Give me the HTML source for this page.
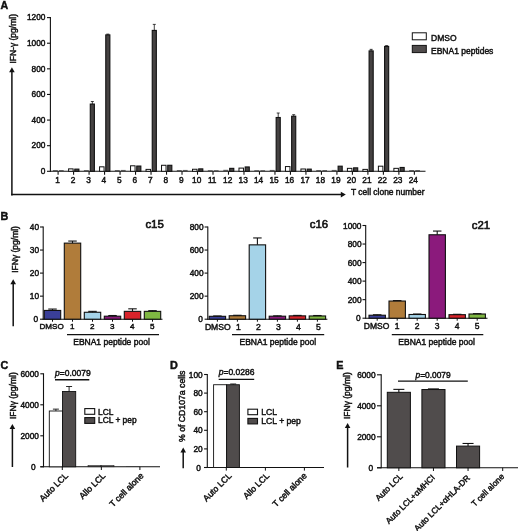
<!DOCTYPE html>
<html><head><meta charset="utf-8"><title>Figure</title>
<style>
html,body{margin:0;padding:0;background:#fff;}
svg{display:block;will-change:transform;}
text{font-family:"Liberation Sans",sans-serif;fill:#111;stroke:#111;stroke-width:0.45px;}
</style></head>
<body>
<svg width="520" height="531" viewBox="0 0 520 531">
<rect x="0" y="0" width="520" height="531" fill="#fff"/>
<text x="0.50" y="8.90" font-size="10.6" text-anchor="start" font-weight="bold">A</text>
<line x1="50.40" y1="17.10" x2="50.40" y2="171.80" stroke="#111" stroke-width="1.1"/>
<line x1="47.00" y1="171.30" x2="50.40" y2="171.30" stroke="#111" stroke-width="1.1"/>
<text x="45.40" y="174.10" font-size="8.3" text-anchor="end" font-weight="normal">0</text>
<line x1="47.00" y1="145.68" x2="50.40" y2="145.68" stroke="#111" stroke-width="1.1"/>
<text x="45.40" y="148.48" font-size="8.3" text-anchor="end" font-weight="normal">200</text>
<line x1="47.00" y1="120.07" x2="50.40" y2="120.07" stroke="#111" stroke-width="1.1"/>
<text x="45.40" y="122.87" font-size="8.3" text-anchor="end" font-weight="normal">400</text>
<line x1="47.00" y1="94.45" x2="50.40" y2="94.45" stroke="#111" stroke-width="1.1"/>
<text x="45.40" y="97.25" font-size="8.3" text-anchor="end" font-weight="normal">600</text>
<line x1="47.00" y1="68.83" x2="50.40" y2="68.83" stroke="#111" stroke-width="1.1"/>
<text x="45.40" y="71.63" font-size="8.3" text-anchor="end" font-weight="normal">800</text>
<line x1="47.00" y1="43.22" x2="50.40" y2="43.22" stroke="#111" stroke-width="1.1"/>
<text x="45.40" y="46.02" font-size="8.3" text-anchor="end" font-weight="normal">1000</text>
<line x1="47.00" y1="17.60" x2="50.40" y2="17.60" stroke="#111" stroke-width="1.1"/>
<text x="45.40" y="20.40" font-size="8.3" text-anchor="end" font-weight="normal">1200</text>
<line x1="49.90" y1="171.30" x2="425.50" y2="171.30" stroke="#111" stroke-width="1.1"/>
<line x1="58.10" y1="171.30" x2="58.10" y2="174.70" stroke="#111" stroke-width="1.1"/>
<text x="57.50" y="182.80" font-size="8.3" text-anchor="middle" font-weight="normal">1</text>
<rect x="52.90" y="170.06" width="4.9" height="1.24" fill="#333" opacity="0.75"/>
<rect x="59.00" y="170.06" width="4.7" height="1.24" fill="#333" opacity="0.75"/>
<line x1="73.59" y1="171.30" x2="73.59" y2="174.70" stroke="#111" stroke-width="1.1"/>
<text x="72.97" y="182.80" font-size="8.3" text-anchor="middle" font-weight="normal">2</text>
<rect x="68.59" y="168.87" width="4.50" height="2.43" fill="#fff" stroke="#111" stroke-width="1.0"/>
<rect x="74.79" y="169.12" width="4.10" height="2.18" fill="#454242" stroke="#111" stroke-width="1.1"/>
<line x1="89.08" y1="171.30" x2="89.08" y2="174.70" stroke="#111" stroke-width="1.1"/>
<text x="88.44" y="182.80" font-size="8.3" text-anchor="middle" font-weight="normal">3</text>
<rect x="83.88" y="170.06" width="4.9" height="1.24" fill="#333" opacity="0.75"/>
<rect x="90.28" y="104.06" width="4.10" height="67.24" fill="#454242" stroke="#111" stroke-width="1.1"/>
<line x1="92.33" y1="104.06" x2="92.33" y2="101.49" stroke="#111" stroke-width="0.8"/>
<line x1="90.83" y1="101.49" x2="93.83" y2="101.49" stroke="#111" stroke-width="0.8"/>
<line x1="104.57" y1="171.30" x2="104.57" y2="174.70" stroke="#111" stroke-width="1.1"/>
<text x="103.91" y="182.80" font-size="8.3" text-anchor="middle" font-weight="normal">4</text>
<rect x="99.57" y="166.82" width="4.50" height="4.48" fill="#fff" stroke="#111" stroke-width="1.0"/>
<rect x="105.77" y="34.89" width="4.10" height="136.41" fill="#454242" stroke="#111" stroke-width="1.1"/>
<line x1="107.82" y1="34.89" x2="107.82" y2="34.12" stroke="#111" stroke-width="0.8"/>
<line x1="106.32" y1="34.12" x2="109.32" y2="34.12" stroke="#111" stroke-width="0.8"/>
<line x1="120.06" y1="171.30" x2="120.06" y2="174.70" stroke="#111" stroke-width="1.1"/>
<text x="119.38" y="182.80" font-size="8.3" text-anchor="middle" font-weight="normal">5</text>
<rect x="114.86" y="170.06" width="4.9" height="1.24" fill="#333" opacity="0.75"/>
<rect x="120.96" y="169.93" width="4.7" height="1.37" fill="#333" opacity="0.75"/>
<line x1="135.55" y1="171.30" x2="135.55" y2="174.70" stroke="#111" stroke-width="1.1"/>
<text x="134.85" y="182.80" font-size="8.3" text-anchor="middle" font-weight="normal">6</text>
<rect x="130.55" y="165.79" width="4.50" height="5.51" fill="#fff" stroke="#111" stroke-width="1.0"/>
<rect x="136.75" y="166.05" width="4.10" height="5.25" fill="#454242" stroke="#111" stroke-width="1.1"/>
<line x1="151.04" y1="171.30" x2="151.04" y2="174.70" stroke="#111" stroke-width="1.1"/>
<text x="150.32" y="182.80" font-size="8.3" text-anchor="middle" font-weight="normal">7</text>
<rect x="146.04" y="169.38" width="4.50" height="1.92" fill="#fff" stroke="#111" stroke-width="1.0"/>
<rect x="152.24" y="30.41" width="4.10" height="140.89" fill="#454242" stroke="#111" stroke-width="1.1"/>
<line x1="154.29" y1="30.41" x2="154.29" y2="24.39" stroke="#111" stroke-width="0.8"/>
<line x1="152.79" y1="24.39" x2="155.79" y2="24.39" stroke="#111" stroke-width="0.8"/>
<line x1="166.53" y1="171.30" x2="166.53" y2="174.70" stroke="#111" stroke-width="1.1"/>
<text x="165.79" y="182.80" font-size="8.3" text-anchor="middle" font-weight="normal">8</text>
<rect x="161.53" y="165.28" width="4.50" height="6.02" fill="#fff" stroke="#111" stroke-width="1.0"/>
<rect x="167.73" y="165.28" width="4.10" height="6.02" fill="#454242" stroke="#111" stroke-width="1.1"/>
<line x1="182.02" y1="171.30" x2="182.02" y2="174.70" stroke="#111" stroke-width="1.1"/>
<text x="181.26" y="182.80" font-size="8.3" text-anchor="middle" font-weight="normal">9</text>
<rect x="176.82" y="170.06" width="4.9" height="1.24" fill="#333" opacity="0.75"/>
<rect x="182.92" y="169.93" width="4.7" height="1.37" fill="#333" opacity="0.75"/>
<line x1="197.51" y1="171.30" x2="197.51" y2="174.70" stroke="#111" stroke-width="1.1"/>
<text x="196.73" y="182.80" font-size="8.3" text-anchor="middle" font-weight="normal">10</text>
<rect x="192.51" y="169.25" width="4.50" height="2.05" fill="#fff" stroke="#111" stroke-width="1.0"/>
<rect x="198.71" y="168.87" width="4.10" height="2.43" fill="#454242" stroke="#111" stroke-width="1.1"/>
<line x1="213.00" y1="171.30" x2="213.00" y2="174.70" stroke="#111" stroke-width="1.1"/>
<text x="212.20" y="182.80" font-size="8.3" text-anchor="middle" font-weight="normal">11</text>
<rect x="207.80" y="170.19" width="4.9" height="1.11" fill="#333" opacity="0.75"/>
<rect x="213.90" y="170.19" width="4.7" height="1.11" fill="#333" opacity="0.75"/>
<line x1="228.49" y1="171.30" x2="228.49" y2="174.70" stroke="#111" stroke-width="1.1"/>
<text x="227.67" y="182.80" font-size="8.3" text-anchor="middle" font-weight="normal">12</text>
<rect x="223.29" y="169.80" width="4.9" height="1.50" fill="#333" opacity="0.75"/>
<rect x="229.69" y="168.35" width="4.10" height="2.95" fill="#454242" stroke="#111" stroke-width="1.1"/>
<line x1="243.98" y1="171.30" x2="243.98" y2="174.70" stroke="#111" stroke-width="1.1"/>
<text x="243.14" y="182.80" font-size="8.3" text-anchor="middle" font-weight="normal">13</text>
<rect x="238.98" y="168.10" width="4.50" height="3.20" fill="#fff" stroke="#111" stroke-width="1.0"/>
<rect x="245.18" y="166.95" width="4.10" height="4.35" fill="#454242" stroke="#111" stroke-width="1.1"/>
<line x1="259.47" y1="171.30" x2="259.47" y2="174.70" stroke="#111" stroke-width="1.1"/>
<text x="258.61" y="182.80" font-size="8.3" text-anchor="middle" font-weight="normal">14</text>
<rect x="254.27" y="170.19" width="4.9" height="1.11" fill="#333" opacity="0.75"/>
<rect x="260.37" y="170.19" width="4.7" height="1.11" fill="#333" opacity="0.75"/>
<line x1="274.96" y1="171.30" x2="274.96" y2="174.70" stroke="#111" stroke-width="1.1"/>
<text x="274.08" y="182.80" font-size="8.3" text-anchor="middle" font-weight="normal">15</text>
<rect x="269.76" y="169.93" width="4.9" height="1.37" fill="#333" opacity="0.75"/>
<rect x="276.16" y="117.50" width="4.10" height="53.80" fill="#454242" stroke="#111" stroke-width="1.1"/>
<line x1="278.21" y1="117.50" x2="278.21" y2="113.02" stroke="#111" stroke-width="0.8"/>
<line x1="276.71" y1="113.02" x2="279.71" y2="113.02" stroke="#111" stroke-width="0.8"/>
<line x1="290.45" y1="171.30" x2="290.45" y2="174.70" stroke="#111" stroke-width="1.1"/>
<text x="289.55" y="182.80" font-size="8.3" text-anchor="middle" font-weight="normal">16</text>
<rect x="285.45" y="166.56" width="4.50" height="4.74" fill="#fff" stroke="#111" stroke-width="1.0"/>
<rect x="291.65" y="116.22" width="4.10" height="55.08" fill="#454242" stroke="#111" stroke-width="1.1"/>
<line x1="293.70" y1="116.22" x2="293.70" y2="114.69" stroke="#111" stroke-width="0.8"/>
<line x1="292.20" y1="114.69" x2="295.20" y2="114.69" stroke="#111" stroke-width="0.8"/>
<line x1="305.94" y1="171.30" x2="305.94" y2="174.70" stroke="#111" stroke-width="1.1"/>
<text x="305.02" y="182.80" font-size="8.3" text-anchor="middle" font-weight="normal">17</text>
<rect x="300.94" y="168.99" width="4.50" height="2.31" fill="#fff" stroke="#111" stroke-width="1.0"/>
<rect x="307.14" y="169.12" width="4.10" height="2.18" fill="#454242" stroke="#111" stroke-width="1.1"/>
<line x1="321.43" y1="171.30" x2="321.43" y2="174.70" stroke="#111" stroke-width="1.1"/>
<text x="320.49" y="182.80" font-size="8.3" text-anchor="middle" font-weight="normal">18</text>
<rect x="316.23" y="170.06" width="4.9" height="1.24" fill="#333" opacity="0.75"/>
<rect x="322.33" y="170.06" width="4.7" height="1.24" fill="#333" opacity="0.75"/>
<line x1="336.92" y1="171.30" x2="336.92" y2="174.70" stroke="#111" stroke-width="1.1"/>
<text x="335.96" y="182.80" font-size="8.3" text-anchor="middle" font-weight="normal">19</text>
<rect x="331.72" y="169.93" width="4.9" height="1.37" fill="#333" opacity="0.75"/>
<rect x="338.12" y="166.18" width="4.10" height="5.12" fill="#454242" stroke="#111" stroke-width="1.1"/>
<line x1="352.41" y1="171.30" x2="352.41" y2="174.70" stroke="#111" stroke-width="1.1"/>
<text x="351.43" y="182.80" font-size="8.3" text-anchor="middle" font-weight="normal">20</text>
<rect x="347.41" y="168.35" width="4.50" height="2.95" fill="#fff" stroke="#111" stroke-width="1.0"/>
<rect x="353.61" y="167.84" width="4.10" height="3.46" fill="#454242" stroke="#111" stroke-width="1.1"/>
<line x1="367.90" y1="171.30" x2="367.90" y2="174.70" stroke="#111" stroke-width="1.1"/>
<text x="366.90" y="182.80" font-size="8.3" text-anchor="middle" font-weight="normal">21</text>
<rect x="362.90" y="169.38" width="4.50" height="1.92" fill="#fff" stroke="#111" stroke-width="1.0"/>
<rect x="369.10" y="50.90" width="4.10" height="120.40" fill="#454242" stroke="#111" stroke-width="1.1"/>
<line x1="371.15" y1="50.90" x2="371.15" y2="49.36" stroke="#111" stroke-width="0.8"/>
<line x1="369.65" y1="49.36" x2="372.65" y2="49.36" stroke="#111" stroke-width="0.8"/>
<line x1="383.39" y1="171.30" x2="383.39" y2="174.70" stroke="#111" stroke-width="1.1"/>
<text x="382.37" y="182.80" font-size="8.3" text-anchor="middle" font-weight="normal">22</text>
<rect x="378.39" y="166.18" width="4.50" height="5.12" fill="#fff" stroke="#111" stroke-width="1.0"/>
<rect x="384.59" y="46.42" width="4.10" height="124.88" fill="#454242" stroke="#111" stroke-width="1.1"/>
<line x1="386.64" y1="46.42" x2="386.64" y2="45.65" stroke="#111" stroke-width="0.8"/>
<line x1="385.14" y1="45.65" x2="388.14" y2="45.65" stroke="#111" stroke-width="0.8"/>
<line x1="398.88" y1="171.30" x2="398.88" y2="174.70" stroke="#111" stroke-width="1.1"/>
<text x="397.84" y="182.80" font-size="8.3" text-anchor="middle" font-weight="normal">23</text>
<rect x="393.88" y="168.35" width="4.50" height="2.95" fill="#fff" stroke="#111" stroke-width="1.0"/>
<rect x="400.08" y="167.46" width="4.10" height="3.84" fill="#454242" stroke="#111" stroke-width="1.1"/>
<line x1="414.37" y1="171.30" x2="414.37" y2="174.70" stroke="#111" stroke-width="1.1"/>
<text x="413.31" y="182.80" font-size="8.3" text-anchor="middle" font-weight="normal">24</text>
<rect x="409.17" y="170.06" width="4.9" height="1.24" fill="#333" opacity="0.75"/>
<rect x="415.27" y="170.06" width="4.7" height="1.24" fill="#333" opacity="0.75"/>
<rect x="412.30" y="32.80" width="14.00" height="7.00" fill="#fff" stroke="#111" stroke-width="1.0"/>
<rect x="412.30" y="45.40" width="14.00" height="7.20" fill="#504c4c" stroke="#111" stroke-width="1.0"/>
<text x="431.00" y="40.60" font-size="8.5" text-anchor="start" font-weight="normal">DMSO</text>
<text x="431.00" y="53.80" font-size="8.5" text-anchor="start" font-weight="normal">EBNA1 peptides</text>
<line x1="11.90" y1="195.40" x2="11.90" y2="70.30" stroke="#111" stroke-width="1.5"/>
<path d="M9.10 72.30 L11.90 67.30 L14.70 72.30 Z" fill="#111"/>
<line x1="11.20" y1="194.60" x2="342.80" y2="194.60" stroke="#111" stroke-width="1.5"/>
<path d="M340.80 191.80 L345.80 194.60 L340.80 197.40 Z" fill="#111"/>
<text x="351.00" y="195.40" font-size="8.45" text-anchor="start" font-weight="normal">T cell clone number</text>
<text x="16.40" y="63.60" font-size="8.5" text-anchor="start" font-weight="normal" transform="rotate(-90 16.40 63.60)">IFN-γ (pg/ml)</text>
<text x="0.50" y="219.50" font-size="10.8" text-anchor="start" font-weight="bold">B</text>
<line x1="43.20" y1="226.50" x2="43.20" y2="319.70" stroke="#111" stroke-width="1.1"/>
<line x1="40.00" y1="319.20" x2="43.20" y2="319.20" stroke="#111" stroke-width="1.1"/>
<text x="38.20" y="322.20" font-size="8.3" text-anchor="end" font-weight="normal">0</text>
<line x1="40.00" y1="296.15" x2="43.20" y2="296.15" stroke="#111" stroke-width="1.1"/>
<text x="39.00" y="299.15" font-size="8.3" text-anchor="end" font-weight="normal">10</text>
<line x1="40.00" y1="273.10" x2="43.20" y2="273.10" stroke="#111" stroke-width="1.1"/>
<text x="39.00" y="276.10" font-size="8.3" text-anchor="end" font-weight="normal">20</text>
<line x1="40.00" y1="250.05" x2="43.20" y2="250.05" stroke="#111" stroke-width="1.1"/>
<text x="39.00" y="253.05" font-size="8.3" text-anchor="end" font-weight="normal">30</text>
<line x1="40.00" y1="227.00" x2="43.20" y2="227.00" stroke="#111" stroke-width="1.1"/>
<text x="39.00" y="230.00" font-size="8.3" text-anchor="end" font-weight="normal">40</text>
<line x1="42.70" y1="319.20" x2="162.50" y2="319.20" stroke="#111" stroke-width="1.1"/>
<rect x="44.30" y="310.44" width="16.40" height="8.76" fill="#3a3f98" stroke="#111" stroke-width="1.1"/>
<line x1="52.50" y1="310.44" x2="52.50" y2="309.06" stroke="#111" stroke-width="1.1"/>
<line x1="48.25" y1="309.06" x2="56.75" y2="309.06" stroke="#111" stroke-width="1.1"/>
<line x1="52.50" y1="319.20" x2="52.50" y2="321.70" stroke="#111" stroke-width="1.0"/>
<text x="51.60" y="329.10" font-size="8.1" text-anchor="middle" font-weight="normal">DMSO</text>
<rect x="64.30" y="243.13" width="16.40" height="76.06" fill="#b07c3a" stroke="#111" stroke-width="1.1"/>
<line x1="72.50" y1="243.13" x2="72.50" y2="241.06" stroke="#111" stroke-width="1.1"/>
<line x1="68.25" y1="241.06" x2="76.75" y2="241.06" stroke="#111" stroke-width="1.1"/>
<line x1="72.50" y1="319.20" x2="72.50" y2="321.70" stroke="#111" stroke-width="1.0"/>
<text x="72.20" y="329.10" font-size="8.1" text-anchor="middle" font-weight="normal">1</text>
<rect x="84.30" y="312.28" width="16.40" height="6.91" fill="#a5d3e8" stroke="#111" stroke-width="1.1"/>
<line x1="92.50" y1="312.28" x2="92.50" y2="311.36" stroke="#111" stroke-width="1.1"/>
<line x1="88.25" y1="311.36" x2="96.75" y2="311.36" stroke="#111" stroke-width="1.1"/>
<line x1="92.50" y1="319.20" x2="92.50" y2="321.70" stroke="#111" stroke-width="1.0"/>
<text x="92.20" y="329.10" font-size="8.1" text-anchor="middle" font-weight="normal">2</text>
<rect x="104.30" y="316.20" width="16.40" height="3.00" fill="#8b1a7c" stroke="#111" stroke-width="1.1"/>
<line x1="112.50" y1="316.20" x2="112.50" y2="315.51" stroke="#111" stroke-width="1.1"/>
<line x1="108.25" y1="315.51" x2="116.75" y2="315.51" stroke="#111" stroke-width="1.1"/>
<line x1="112.50" y1="319.20" x2="112.50" y2="321.70" stroke="#111" stroke-width="1.0"/>
<text x="112.20" y="329.10" font-size="8.1" text-anchor="middle" font-weight="normal">3</text>
<rect x="124.30" y="311.36" width="16.40" height="7.84" fill="#d8232a" stroke="#111" stroke-width="1.1"/>
<line x1="132.50" y1="311.36" x2="132.50" y2="308.83" stroke="#111" stroke-width="1.1"/>
<line x1="128.25" y1="308.83" x2="136.75" y2="308.83" stroke="#111" stroke-width="1.1"/>
<line x1="132.50" y1="319.20" x2="132.50" y2="321.70" stroke="#111" stroke-width="1.0"/>
<text x="132.20" y="329.10" font-size="8.1" text-anchor="middle" font-weight="normal">4</text>
<rect x="144.30" y="311.36" width="16.40" height="7.84" fill="#7fb742" stroke="#111" stroke-width="1.1"/>
<line x1="152.50" y1="311.36" x2="152.50" y2="310.67" stroke="#111" stroke-width="1.1"/>
<line x1="148.25" y1="310.67" x2="156.75" y2="310.67" stroke="#111" stroke-width="1.1"/>
<line x1="152.50" y1="319.20" x2="152.50" y2="321.70" stroke="#111" stroke-width="1.0"/>
<text x="152.20" y="329.10" font-size="8.1" text-anchor="middle" font-weight="normal">5</text>
<line x1="67.00" y1="334.70" x2="159.00" y2="334.70" stroke="#111" stroke-width="1.2"/>
<text x="111.50" y="345.30" font-size="8.5" text-anchor="middle" font-weight="normal">EBNA1 peptide pool</text>
<text x="154.60" y="228.40" font-size="11.4" text-anchor="middle" font-weight="normal" style="stroke-width:0.6px">c15</text>
<line x1="207.80" y1="226.50" x2="207.80" y2="319.70" stroke="#111" stroke-width="1.1"/>
<line x1="204.60" y1="319.20" x2="207.80" y2="319.20" stroke="#111" stroke-width="1.1"/>
<text x="202.80" y="322.20" font-size="8.3" text-anchor="end" font-weight="normal">0</text>
<line x1="204.60" y1="296.15" x2="207.80" y2="296.15" stroke="#111" stroke-width="1.1"/>
<text x="203.60" y="299.15" font-size="8.3" text-anchor="end" font-weight="normal">200</text>
<line x1="204.60" y1="273.10" x2="207.80" y2="273.10" stroke="#111" stroke-width="1.1"/>
<text x="203.60" y="276.10" font-size="8.3" text-anchor="end" font-weight="normal">400</text>
<line x1="204.60" y1="250.05" x2="207.80" y2="250.05" stroke="#111" stroke-width="1.1"/>
<text x="203.60" y="253.05" font-size="8.3" text-anchor="end" font-weight="normal">600</text>
<line x1="204.60" y1="227.00" x2="207.80" y2="227.00" stroke="#111" stroke-width="1.1"/>
<text x="203.60" y="230.00" font-size="8.3" text-anchor="end" font-weight="normal">800</text>
<line x1="207.30" y1="319.20" x2="327.40" y2="319.20" stroke="#111" stroke-width="1.1"/>
<rect x="209.20" y="316.32" width="16.40" height="2.88" fill="#3a3f98" stroke="#111" stroke-width="1.1"/>
<line x1="217.40" y1="316.32" x2="217.40" y2="315.97" stroke="#111" stroke-width="1.1"/>
<line x1="213.15" y1="315.97" x2="221.65" y2="315.97" stroke="#111" stroke-width="1.1"/>
<line x1="217.40" y1="319.20" x2="217.40" y2="321.70" stroke="#111" stroke-width="1.0"/>
<text x="217.80" y="329.80" font-size="8.6" text-anchor="middle" font-weight="normal">DMSO</text>
<rect x="229.20" y="315.74" width="16.40" height="3.46" fill="#b07c3a" stroke="#111" stroke-width="1.1"/>
<line x1="237.40" y1="315.74" x2="237.40" y2="315.28" stroke="#111" stroke-width="1.1"/>
<line x1="233.15" y1="315.28" x2="241.65" y2="315.28" stroke="#111" stroke-width="1.1"/>
<line x1="237.40" y1="319.20" x2="237.40" y2="321.70" stroke="#111" stroke-width="1.0"/>
<text x="238.40" y="329.80" font-size="8.6" text-anchor="middle" font-weight="normal">1</text>
<rect x="249.20" y="244.86" width="16.40" height="74.34" fill="#a5d3e8" stroke="#111" stroke-width="1.1"/>
<line x1="257.40" y1="244.86" x2="257.40" y2="237.95" stroke="#111" stroke-width="1.1"/>
<line x1="253.15" y1="237.95" x2="261.65" y2="237.95" stroke="#111" stroke-width="1.1"/>
<line x1="257.40" y1="319.20" x2="257.40" y2="321.70" stroke="#111" stroke-width="1.0"/>
<text x="258.40" y="329.80" font-size="8.6" text-anchor="middle" font-weight="normal">2</text>
<rect x="269.20" y="316.20" width="16.40" height="3.00" fill="#8b1a7c" stroke="#111" stroke-width="1.1"/>
<line x1="277.40" y1="316.20" x2="277.40" y2="315.86" stroke="#111" stroke-width="1.1"/>
<line x1="273.15" y1="315.86" x2="281.65" y2="315.86" stroke="#111" stroke-width="1.1"/>
<line x1="277.40" y1="319.20" x2="277.40" y2="321.70" stroke="#111" stroke-width="1.0"/>
<text x="278.40" y="329.80" font-size="8.6" text-anchor="middle" font-weight="normal">3</text>
<rect x="289.20" y="315.86" width="16.40" height="3.34" fill="#d8232a" stroke="#111" stroke-width="1.1"/>
<line x1="297.40" y1="315.86" x2="297.40" y2="315.40" stroke="#111" stroke-width="1.1"/>
<line x1="293.15" y1="315.40" x2="301.65" y2="315.40" stroke="#111" stroke-width="1.1"/>
<line x1="297.40" y1="319.20" x2="297.40" y2="321.70" stroke="#111" stroke-width="1.0"/>
<text x="298.40" y="329.80" font-size="8.6" text-anchor="middle" font-weight="normal">4</text>
<rect x="309.20" y="315.97" width="16.40" height="3.23" fill="#7fb742" stroke="#111" stroke-width="1.1"/>
<line x1="317.40" y1="315.97" x2="317.40" y2="315.51" stroke="#111" stroke-width="1.1"/>
<line x1="313.15" y1="315.51" x2="321.65" y2="315.51" stroke="#111" stroke-width="1.1"/>
<line x1="317.40" y1="319.20" x2="317.40" y2="321.70" stroke="#111" stroke-width="1.0"/>
<text x="318.40" y="329.80" font-size="8.6" text-anchor="middle" font-weight="normal">5</text>
<line x1="232.00" y1="334.70" x2="324.20" y2="334.70" stroke="#111" stroke-width="1.2"/>
<text x="277.80" y="345.30" font-size="8.5" text-anchor="middle" font-weight="normal">EBNA1 peptide pool</text>
<text x="319.00" y="228.40" font-size="11.4" text-anchor="middle" font-weight="normal" style="stroke-width:0.6px">c16</text>
<line x1="365.70" y1="225.00" x2="365.70" y2="318.70" stroke="#111" stroke-width="1.1"/>
<line x1="362.50" y1="318.20" x2="365.70" y2="318.20" stroke="#111" stroke-width="1.1"/>
<text x="360.70" y="321.20" font-size="8.3" text-anchor="end" font-weight="normal">0</text>
<line x1="362.50" y1="299.66" x2="365.70" y2="299.66" stroke="#111" stroke-width="1.1"/>
<text x="361.50" y="302.66" font-size="8.3" text-anchor="end" font-weight="normal">200</text>
<line x1="362.50" y1="281.12" x2="365.70" y2="281.12" stroke="#111" stroke-width="1.1"/>
<text x="361.50" y="284.12" font-size="8.3" text-anchor="end" font-weight="normal">400</text>
<line x1="362.50" y1="262.58" x2="365.70" y2="262.58" stroke="#111" stroke-width="1.1"/>
<text x="361.50" y="265.58" font-size="8.3" text-anchor="end" font-weight="normal">600</text>
<line x1="362.50" y1="244.04" x2="365.70" y2="244.04" stroke="#111" stroke-width="1.1"/>
<text x="361.50" y="247.04" font-size="8.3" text-anchor="end" font-weight="normal">800</text>
<line x1="362.50" y1="225.50" x2="365.70" y2="225.50" stroke="#111" stroke-width="1.1"/>
<text x="361.50" y="228.50" font-size="8.3" text-anchor="end" font-weight="normal">1000</text>
<line x1="365.20" y1="318.20" x2="487.50" y2="318.20" stroke="#111" stroke-width="1.1"/>
<rect x="369.00" y="315.23" width="16.40" height="2.97" fill="#3a3f98" stroke="#111" stroke-width="1.1"/>
<line x1="377.20" y1="315.23" x2="377.20" y2="314.77" stroke="#111" stroke-width="1.1"/>
<line x1="372.95" y1="314.77" x2="381.45" y2="314.77" stroke="#111" stroke-width="1.1"/>
<line x1="377.20" y1="318.20" x2="377.20" y2="320.70" stroke="#111" stroke-width="1.0"/>
<text x="376.60" y="328.80" font-size="8.5" text-anchor="middle" font-weight="normal">DMSO</text>
<rect x="389.00" y="301.05" width="16.40" height="17.15" fill="#b07c3a" stroke="#111" stroke-width="1.1"/>
<line x1="397.20" y1="301.05" x2="397.20" y2="300.59" stroke="#111" stroke-width="1.1"/>
<line x1="392.95" y1="300.59" x2="401.45" y2="300.59" stroke="#111" stroke-width="1.1"/>
<line x1="397.20" y1="318.20" x2="397.20" y2="320.70" stroke="#111" stroke-width="1.0"/>
<text x="397.20" y="328.80" font-size="8.5" text-anchor="middle" font-weight="normal">1</text>
<rect x="409.00" y="314.49" width="16.40" height="3.71" fill="#a5d3e8" stroke="#111" stroke-width="1.1"/>
<line x1="417.20" y1="314.49" x2="417.20" y2="314.03" stroke="#111" stroke-width="1.1"/>
<line x1="412.95" y1="314.03" x2="421.45" y2="314.03" stroke="#111" stroke-width="1.1"/>
<line x1="417.20" y1="318.20" x2="417.20" y2="320.70" stroke="#111" stroke-width="1.0"/>
<text x="417.20" y="328.80" font-size="8.5" text-anchor="middle" font-weight="normal">2</text>
<rect x="429.00" y="234.77" width="16.40" height="83.43" fill="#8b1a7c" stroke="#111" stroke-width="1.1"/>
<line x1="437.20" y1="234.77" x2="437.20" y2="231.06" stroke="#111" stroke-width="1.1"/>
<line x1="432.95" y1="231.06" x2="441.45" y2="231.06" stroke="#111" stroke-width="1.1"/>
<line x1="437.20" y1="318.20" x2="437.20" y2="320.70" stroke="#111" stroke-width="1.0"/>
<text x="437.20" y="328.80" font-size="8.5" text-anchor="middle" font-weight="normal">3</text>
<rect x="449.00" y="314.68" width="16.40" height="3.52" fill="#d8232a" stroke="#111" stroke-width="1.1"/>
<line x1="457.20" y1="314.68" x2="457.20" y2="314.31" stroke="#111" stroke-width="1.1"/>
<line x1="452.95" y1="314.31" x2="461.45" y2="314.31" stroke="#111" stroke-width="1.1"/>
<line x1="457.20" y1="318.20" x2="457.20" y2="320.70" stroke="#111" stroke-width="1.0"/>
<text x="457.20" y="328.80" font-size="8.5" text-anchor="middle" font-weight="normal">4</text>
<rect x="469.00" y="314.03" width="16.40" height="4.17" fill="#7fb742" stroke="#111" stroke-width="1.1"/>
<line x1="477.20" y1="314.03" x2="477.20" y2="313.66" stroke="#111" stroke-width="1.1"/>
<line x1="472.95" y1="313.66" x2="481.45" y2="313.66" stroke="#111" stroke-width="1.1"/>
<line x1="477.20" y1="318.20" x2="477.20" y2="320.70" stroke="#111" stroke-width="1.0"/>
<text x="477.20" y="328.80" font-size="8.5" text-anchor="middle" font-weight="normal">5</text>
<line x1="391.80" y1="334.70" x2="483.30" y2="334.70" stroke="#111" stroke-width="1.2"/>
<text x="436.60" y="345.30" font-size="8.5" text-anchor="middle" font-weight="normal">EBNA1 peptide pool</text>
<text x="481.00" y="229.30" font-size="11.4" text-anchor="middle" font-weight="normal" style="stroke-width:0.6px">c21</text>
<line x1="13.20" y1="326.20" x2="13.20" y2="282.20" stroke="#111" stroke-width="1.5"/>
<path d="M10.40 284.20 L13.20 279.20 L16.00 284.20 Z" fill="#111"/>
<text x="18.20" y="272.80" font-size="8.5" text-anchor="start" font-weight="normal" transform="rotate(-90 18.20 272.80)">IFNγ (pg/ml)</text>
<text x="0.50" y="368.90" font-size="10.8" text-anchor="start" font-weight="bold">C</text>
<line x1="43.50" y1="373.30" x2="43.50" y2="467.30" stroke="#111" stroke-width="1.1"/>
<line x1="40.30" y1="466.80" x2="43.50" y2="466.80" stroke="#111" stroke-width="1.1"/>
<text x="35.50" y="469.80" font-size="8.3" text-anchor="end" font-weight="normal">0</text>
<line x1="40.30" y1="435.80" x2="43.50" y2="435.80" stroke="#111" stroke-width="1.1"/>
<text x="38.90" y="438.80" font-size="8.3" text-anchor="end" font-weight="normal">2000</text>
<line x1="40.30" y1="404.80" x2="43.50" y2="404.80" stroke="#111" stroke-width="1.1"/>
<text x="38.90" y="407.80" font-size="8.3" text-anchor="end" font-weight="normal">4000</text>
<line x1="40.30" y1="373.80" x2="43.50" y2="373.80" stroke="#111" stroke-width="1.1"/>
<text x="38.90" y="376.80" font-size="8.3" text-anchor="end" font-weight="normal">6000</text>
<line x1="40.30" y1="466.80" x2="160.00" y2="466.80" stroke="#111" stroke-width="1.1"/>
<rect x="49.30" y="411.00" width="13.20" height="55.80" fill="#fff" stroke="#111" stroke-width="0.9"/>
<line x1="55.90" y1="411.00" x2="55.90" y2="409.14" stroke="#111" stroke-width="0.9"/>
<line x1="52.90" y1="409.14" x2="58.90" y2="409.14" stroke="#111" stroke-width="0.9"/>
<rect x="62.50" y="391.47" width="13.20" height="75.33" fill="#504c4c" stroke="#111" stroke-width="0.9"/>
<line x1="69.10" y1="391.47" x2="69.10" y2="386.51" stroke="#111" stroke-width="0.9"/>
<line x1="66.10" y1="386.51" x2="72.10" y2="386.51" stroke="#111" stroke-width="0.9"/>
<rect x="88.00" y="465.60" width="13.00" height="1.20" fill="#504c4c" stroke="#111" stroke-width="0.5"/>
<rect x="101.00" y="465.60" width="13.00" height="1.20" fill="#504c4c" stroke="#111" stroke-width="0.5"/>
<text x="55.00" y="375.60" font-size="8.5" text-anchor="start" font-weight="normal"><tspan font-style="italic">p</tspan>=0.0079</text>
<line x1="55.00" y1="379.70" x2="89.30" y2="379.70" stroke="#111" stroke-width="1.5"/>
<rect x="84.80" y="408.60" width="9.90" height="5.70" fill="#fff" stroke="#111" stroke-width="1.1"/>
<rect x="84.80" y="417.60" width="9.90" height="5.80" fill="#504c4c" stroke="#111" stroke-width="1.1"/>
<text x="98.00" y="414.50" font-size="8.4" text-anchor="start" font-weight="normal">LCL</text>
<text x="98.00" y="423.30" font-size="8.4" text-anchor="start" font-weight="normal">LCL + pep</text>
<rect x="126" y="466.0" width="14" height="0.8" fill="#333" opacity="0.6"/>
<text x="68.60" y="476.30" font-size="8.7" text-anchor="end" font-weight="normal" transform="rotate(-45 68.60 476.30)">Auto LCL</text>
<text x="106.00" y="476.30" font-size="8.7" text-anchor="end" font-weight="normal" transform="rotate(-45 106.00 476.30)">Allo LCL</text>
<text x="144.30" y="476.30" font-size="8.7" text-anchor="end" font-weight="normal" transform="rotate(-45 144.30 476.30)">T cell alone</text>
<line x1="62.30" y1="466.80" x2="62.30" y2="470.00" stroke="#111" stroke-width="1.0"/>
<line x1="101.35" y1="466.80" x2="101.35" y2="470.00" stroke="#111" stroke-width="1.0"/>
<line x1="139.90" y1="466.80" x2="139.90" y2="470.00" stroke="#111" stroke-width="1.0"/>
<line x1="12.40" y1="467.00" x2="12.40" y2="427.00" stroke="#111" stroke-width="1.5"/>
<path d="M9.60 429.00 L12.40 424.00 L15.20 429.00 Z" fill="#111"/>
<text x="15.70" y="419.00" font-size="8.5" text-anchor="start" font-weight="normal" transform="rotate(-90 15.70 419.00)">IFNγ (pg/ml)</text>
<text x="170.00" y="368.90" font-size="10.8" text-anchor="start" font-weight="bold">D</text>
<line x1="207.30" y1="374.00" x2="207.30" y2="468.00" stroke="#111" stroke-width="1.1"/>
<line x1="204.10" y1="467.50" x2="207.30" y2="467.50" stroke="#111" stroke-width="1.1"/>
<text x="200.90" y="470.50" font-size="8.3" text-anchor="end" font-weight="normal">0</text>
<line x1="204.10" y1="448.90" x2="207.30" y2="448.90" stroke="#111" stroke-width="1.1"/>
<text x="202.70" y="451.90" font-size="8.3" text-anchor="end" font-weight="normal">20</text>
<line x1="204.10" y1="430.30" x2="207.30" y2="430.30" stroke="#111" stroke-width="1.1"/>
<text x="202.70" y="433.30" font-size="8.3" text-anchor="end" font-weight="normal">40</text>
<line x1="204.10" y1="411.70" x2="207.30" y2="411.70" stroke="#111" stroke-width="1.1"/>
<text x="202.70" y="414.70" font-size="8.3" text-anchor="end" font-weight="normal">60</text>
<line x1="204.10" y1="393.10" x2="207.30" y2="393.10" stroke="#111" stroke-width="1.1"/>
<text x="202.70" y="396.10" font-size="8.3" text-anchor="end" font-weight="normal">80</text>
<line x1="204.10" y1="374.50" x2="207.30" y2="374.50" stroke="#111" stroke-width="1.1"/>
<text x="202.70" y="377.50" font-size="8.3" text-anchor="end" font-weight="normal">100</text>
<line x1="204.10" y1="467.50" x2="324.00" y2="467.50" stroke="#111" stroke-width="1.1"/>
<rect x="213.60" y="384.73" width="13.00" height="82.77" fill="#fff" stroke="#111" stroke-width="0.9"/>
<rect x="226.60" y="384.73" width="12.80" height="82.77" fill="#504c4c" stroke="#111" stroke-width="0.9"/>
<line x1="233.20" y1="384.73" x2="233.20" y2="383.99" stroke="#111" stroke-width="0.9"/>
<line x1="230.20" y1="383.99" x2="236.20" y2="383.99" stroke="#111" stroke-width="0.9"/>
<text x="218.70" y="375.30" font-size="8.5" text-anchor="start" font-weight="normal"><tspan font-style="italic">p</tspan>=0.0286</text>
<line x1="218.70" y1="379.30" x2="254.20" y2="379.30" stroke="#111" stroke-width="1.3"/>
<rect x="247.90" y="409.20" width="9.60" height="5.50" fill="#fff" stroke="#111" stroke-width="1.1"/>
<rect x="247.90" y="418.40" width="9.60" height="5.50" fill="#504c4c" stroke="#111" stroke-width="1.1"/>
<text x="261.30" y="414.90" font-size="8.6" text-anchor="start" font-weight="normal">LCL</text>
<text x="261.30" y="424.00" font-size="8.6" text-anchor="start" font-weight="normal">LCL + pep</text>
<text x="232.20" y="476.30" font-size="8.7" text-anchor="end" font-weight="normal" transform="rotate(-45 232.20 476.30)">Auto LCL</text>
<text x="269.90" y="476.30" font-size="8.7" text-anchor="end" font-weight="normal" transform="rotate(-45 269.90 476.30)">Allo LCL</text>
<text x="307.40" y="476.30" font-size="8.7" text-anchor="end" font-weight="normal" transform="rotate(-45 307.40 476.30)">T cell alone</text>
<line x1="226.30" y1="467.50" x2="226.30" y2="470.60" stroke="#111" stroke-width="1.0"/>
<line x1="265.40" y1="467.50" x2="265.40" y2="470.60" stroke="#111" stroke-width="1.0"/>
<line x1="304.40" y1="467.50" x2="304.40" y2="470.60" stroke="#111" stroke-width="1.0"/>
<line x1="183.20" y1="468.30" x2="183.20" y2="450.60" stroke="#111" stroke-width="1.5"/>
<path d="M180.40 452.60 L183.20 447.60 L186.00 452.60 Z" fill="#111"/>
<text x="185.20" y="442.00" font-size="8.7" text-anchor="start" font-weight="normal" transform="rotate(-90 185.20 442.00)">% of CD107a cells</text>
<text x="336.20" y="368.70" font-size="10.8" text-anchor="start" font-weight="bold">E</text>
<line x1="381.20" y1="374.30" x2="381.20" y2="468.30" stroke="#111" stroke-width="1.1"/>
<line x1="377.00" y1="467.80" x2="381.20" y2="467.80" stroke="#111" stroke-width="1.1"/>
<text x="373.20" y="470.80" font-size="8.3" text-anchor="end" font-weight="normal">0</text>
<line x1="377.00" y1="436.80" x2="381.20" y2="436.80" stroke="#111" stroke-width="1.1"/>
<text x="375.60" y="439.80" font-size="8.3" text-anchor="end" font-weight="normal">2000</text>
<line x1="377.00" y1="405.80" x2="381.20" y2="405.80" stroke="#111" stroke-width="1.1"/>
<text x="375.60" y="408.80" font-size="8.3" text-anchor="end" font-weight="normal">4000</text>
<line x1="377.00" y1="374.80" x2="381.20" y2="374.80" stroke="#111" stroke-width="1.1"/>
<text x="375.60" y="377.80" font-size="8.3" text-anchor="end" font-weight="normal">6000</text>
<line x1="377.00" y1="467.80" x2="518.00" y2="467.80" stroke="#111" stroke-width="1.1"/>
<rect x="387.30" y="392.31" width="23.10" height="75.48" fill="#504c4c" stroke="#111" stroke-width="1.0"/>
<line x1="398.85" y1="392.31" x2="398.85" y2="389.37" stroke="#111" stroke-width="1.1"/>
<line x1="393.35" y1="389.37" x2="404.35" y2="389.37" stroke="#111" stroke-width="1.1"/>
<rect x="421.90" y="389.52" width="23.10" height="78.28" fill="#504c4c" stroke="#111" stroke-width="1.0"/>
<line x1="433.45" y1="389.52" x2="433.45" y2="388.91" stroke="#111" stroke-width="1.1"/>
<line x1="427.95" y1="388.91" x2="438.95" y2="388.91" stroke="#111" stroke-width="1.1"/>
<rect x="456.50" y="446.10" width="23.10" height="21.70" fill="#504c4c" stroke="#111" stroke-width="1.0"/>
<line x1="468.05" y1="446.10" x2="468.05" y2="443.47" stroke="#111" stroke-width="1.1"/>
<line x1="462.55" y1="443.47" x2="473.55" y2="443.47" stroke="#111" stroke-width="1.1"/>
<text x="415.60" y="377.60" font-size="8.35" text-anchor="start" font-weight="normal"><tspan font-style="italic">p</tspan>=0.0079</text>
<line x1="398.00" y1="381.10" x2="467.80" y2="381.10" stroke="#111" stroke-width="1.3"/>
<text x="403.20" y="476.90" font-size="8.3" text-anchor="end" font-weight="normal" transform="rotate(-45 403.20 476.90)">Auto LCL</text>
<text x="435.40" y="478.10" font-size="8.3" text-anchor="end" font-weight="normal" transform="rotate(-45 435.40 478.10)">Auto LCL+αMHCI</text>
<text x="470.60" y="478.60" font-size="8.3" text-anchor="end" font-weight="normal" transform="rotate(-45 470.60 478.60)">Auto LCL+αHLA-DR</text>
<text x="504.70" y="477.10" font-size="8.3" text-anchor="end" font-weight="normal" transform="rotate(-45 504.70 477.10)">T cell alone</text>
<line x1="398.85" y1="467.80" x2="398.85" y2="471.00" stroke="#111" stroke-width="1.0"/>
<line x1="433.45" y1="467.80" x2="433.45" y2="471.00" stroke="#111" stroke-width="1.0"/>
<line x1="468.05" y1="467.80" x2="468.05" y2="471.00" stroke="#111" stroke-width="1.0"/>
<line x1="502.70" y1="467.80" x2="502.70" y2="471.00" stroke="#111" stroke-width="1.0"/>
<line x1="347.60" y1="467.50" x2="347.60" y2="426.00" stroke="#111" stroke-width="1.5"/>
<path d="M344.80 428.00 L347.60 423.00 L350.40 428.00 Z" fill="#111"/>
<text x="350.20" y="419.00" font-size="8.5" text-anchor="start" font-weight="normal" transform="rotate(-90 350.20 419.00)">IFNγ (pg/ml)</text>
</svg>
</body></html>
